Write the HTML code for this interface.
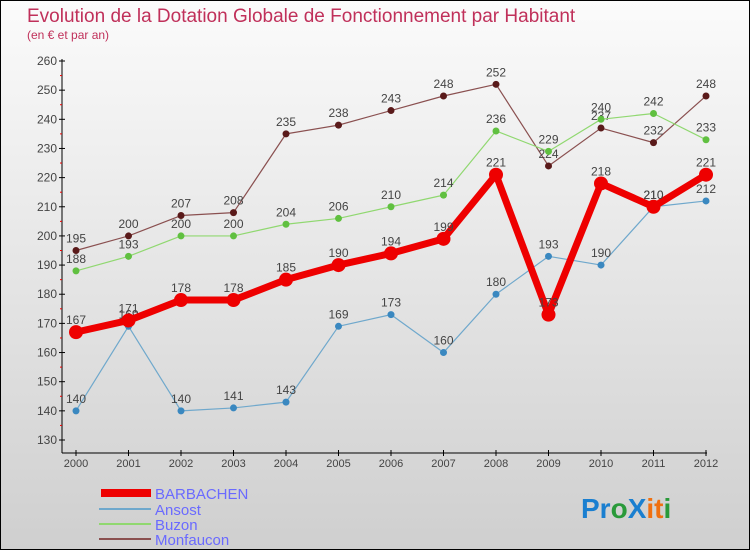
<!DOCTYPE html>
<html><head><meta charset="utf-8"><style>
body{margin:0}
#c{width:748px;height:548px;border:1px solid #000;background:linear-gradient(#fbfbfb,#cfcfcf);position:relative;font-family:"Liberation Sans",sans-serif;overflow:hidden}
</style></head><body>
<div id="c">
<svg id="s" width="748" height="548" xmlns="http://www.w3.org/2000/svg">
<text x="26" y="21" font-size="19" fill="#c0305a">Evolution de la Dotation Globale de Fonctionnement par Habitant</text>
<text x="26" y="38" font-size="12" fill="#c0305a">(en € et par an)</text>
<g id="ax"></g><g id="ser"></g>
<g>
<rect x="100" y="488" width="50" height="8" fill="#e00"/>
<text x="154" y="498" font-size="15" fill="#6a6aff">BARBACHEN</text>
<line x1="98" y1="508" x2="150" y2="508" stroke="#6fa8cc" stroke-width="2"/>
<text x="154" y="514" font-size="15" fill="#6a6aff">Ansost</text>
<line x1="98" y1="523" x2="150" y2="523" stroke="#90d870" stroke-width="2"/>
<text x="154" y="529" font-size="15" fill="#6a6aff">Buzon</text>
<line x1="98" y1="538" x2="150" y2="538" stroke="#8a5050" stroke-width="2"/>
<text x="154" y="544" font-size="15" fill="#6a6aff">Monfaucon</text>
</g>
<text x="580" y="517" font-size="28" font-weight="bold"><tspan fill="#1a7fd0">Pr</tspan><tspan fill="#2a9a3a">o</tspan><tspan fill="#1a7fd0">X</tspan><tspan fill="#f07010">it</tspan><tspan fill="#2a9a3a">i</tspan></text>
</svg></div>
<script>
const years=[2000,2001,2002,2003,2004,2005,2006,2007,2008,2009,2010,2011,2012];
const yTicks=[130,140,150,160,170,180,190,200,210,220,230,240,250,260];
const barbachen=[167,171,178,178,185,190,194,199,221,173,218,210,221];
const ansost=[140,169,140,141,143,169,173,160,180,193,190,210,212];
const buzon=[188,193,200,200,204,206,210,214,236,229,240,242,233];
const monfaucon=[195,200,207,208,235,238,243,248,252,224,237,232,248];
const NS="http://www.w3.org/2000/svg";
function X(i){return 75+i*52.5}
function Y(v){return 60+(260-v)*379/130}
function mk(t,a,p){const e=document.createElementNS(NS,t);for(const k in a)e.setAttribute(k,a[k]);p.appendChild(e);return e}
const ax=document.getElementById('ax');
let l=mk('line',{x1:61,y1:58,x2:61,y2:452,stroke:'#000'},ax);


l=mk('line',{x1:61,y1:452,x2:706,y2:452,stroke:'#000'},ax);


yTicks.forEach(v=>{
 mk('line',{x1:58,y1:Y(v),x2:64,y2:Y(v),stroke:'#000'},ax);
 if(v<260)mk('line',{x1:59,y1:Y(v+5),x2:61,y2:Y(v+5),stroke:'#e00'},ax);
 const t=mk('text',{x:56,y:Y(v)+4,'font-size':12,fill:'#444','text-anchor':'end'},ax);t.textContent=v;
 
 
});
years.forEach((y,i)=>{
 mk('line',{x1:X(i),y1:449,x2:X(i),y2:455,stroke:'#000'},ax);
 const t=mk('text',{x:X(i),y:466,'font-size':11,fill:'#444','text-anchor':'middle'},ax);t.textContent=y;
 
 
});
const ser=document.getElementById('ser');
function draw(d,col,dot,w,r,name){
 const g=mk('g',{},ser);
 
 
 mk('polyline',{points:d.map((v,i)=>X(i)+','+Y(v)).join(' '),fill:'none',stroke:col,'stroke-width':w,'stroke-linejoin':'round'},g);
 d.forEach((v,i)=>{
  mk('circle',{cx:X(i),cy:Y(v),r:r,fill:dot},g);
  const t=mk('text',{x:X(i),y:Y(v)-8,'font-size':12,fill:'#444','text-anchor':'middle'},g);t.textContent=v;
 });
}
draw(monfaucon,'#8a5050','#5a1a1a',1.2,3.5,'series-monfaucon');
draw(buzon,'#90d870','#60c040',1.2,3.5,'series-buzon');
draw(ansost,'#6fa8cc','#3a88c0',1.2,3.5,'series-ansost');
draw(barbachen,'#ee0000','#ee0000',7,7,'series-barbachen');
</script></body></html>
